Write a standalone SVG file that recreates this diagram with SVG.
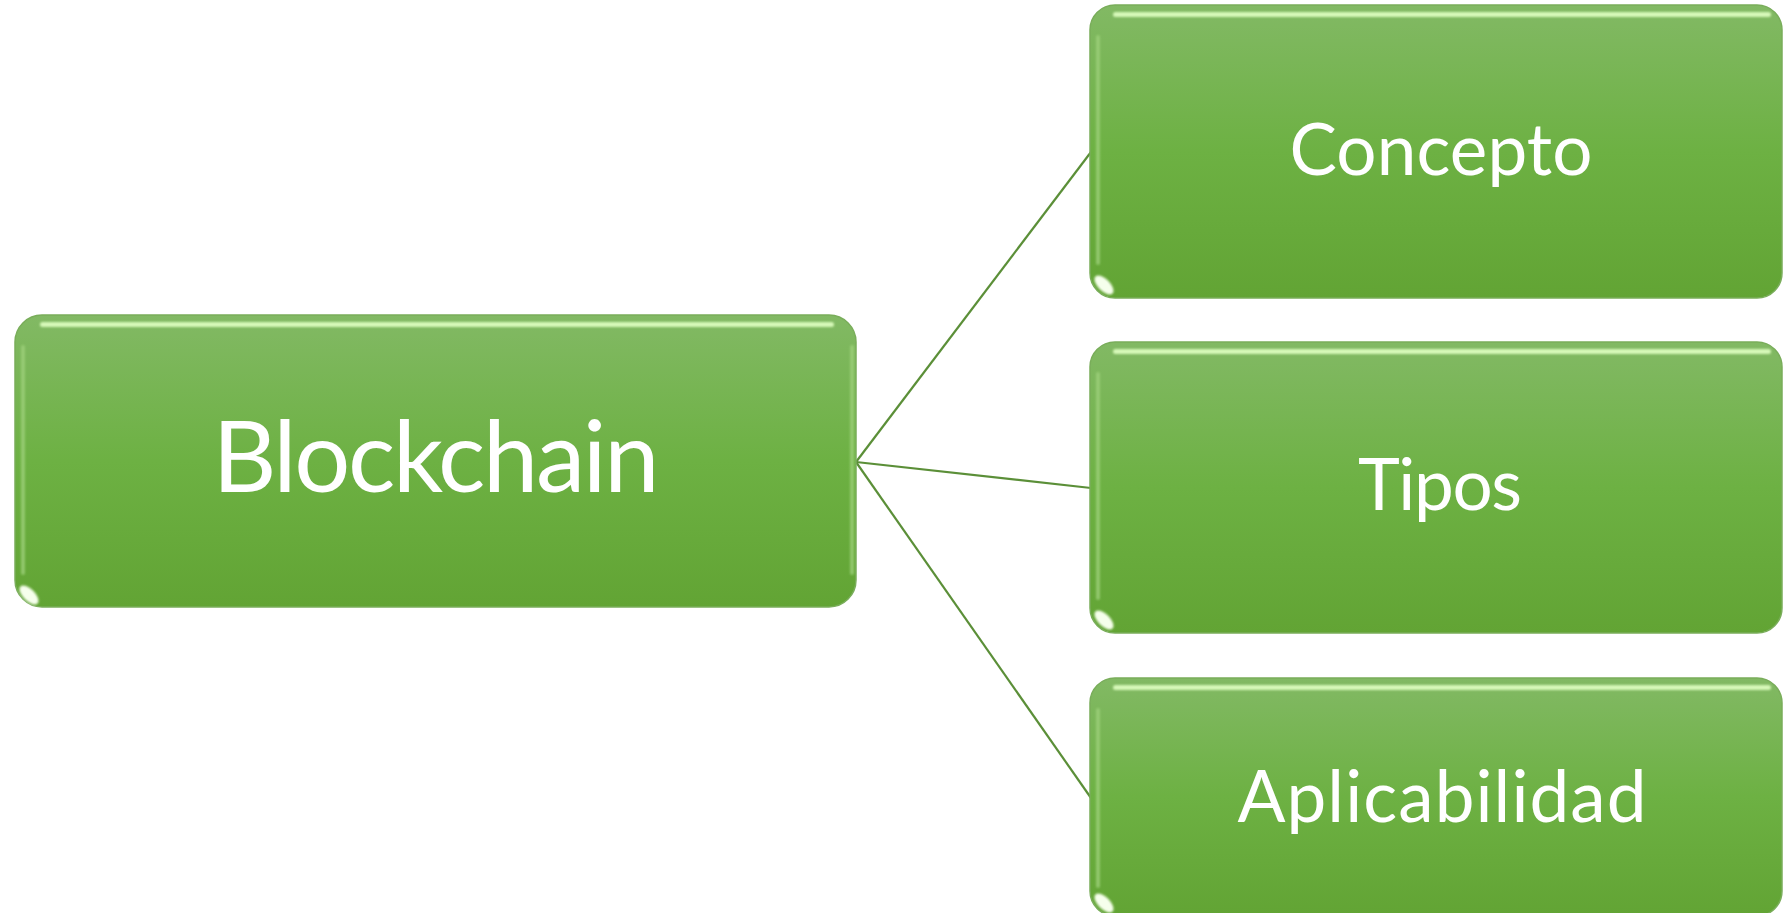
<svg xmlns="http://www.w3.org/2000/svg" width="1783" height="913" viewBox="0 0 1783 913">
  <defs>
    <linearGradient id="g" x1="0" y1="0" x2="0" y2="1">
      <stop offset="0" stop-color="#82b964"/>
      <stop offset="0.5" stop-color="#6db143"/>
      <stop offset="1" stop-color="#62a434"/>
    </linearGradient>
    <filter id="soft" filterUnits="userSpaceOnUse" x="0" y="0" width="1783" height="913">
      <feGaussianBlur stdDeviation="1.3"/>
    </filter>
  </defs>
  <style>
    .box { fill: url(#g); stroke: #79ad5a; stroke-width: 1.5; }
    .hl { fill: #d6f8b8; filter: url(#soft); }
    .side { fill: #9fd27c; opacity: 0.75; filter: url(#soft); }
    .glint { fill: #f6ffec; filter: url(#soft); }
    .lbl { font-family: Lato, "Open Sans", "Liberation Sans", sans-serif; fill: #ffffff; text-anchor: middle; }
    .conn { stroke: #5b8f38; stroke-width: 2.2; fill: none; }
  </style>
  <rect width="1783" height="913" fill="#ffffff"/>

  <g id="connectors">
    <line class="conn" x1="856" y1="462" x2="1091" y2="152"/>
    <line class="conn" x1="856" y1="462" x2="1091" y2="488"/>
    <line class="conn" x1="856" y1="462" x2="1091" y2="798"/>
  </g>

  <g id="node-blockchain">
    <rect class="box" x="15" y="315" width="841" height="292" rx="27"/>
    <rect class="hl" x="40" y="322" width="794" height="5" rx="2.5"/>
    <rect class="side" x="21" y="345" width="4" height="230" rx="2"/>
    <rect class="side" x="850" y="345" width="4" height="230" rx="2"/>
    <ellipse class="glint" cx="29" cy="595" rx="12" ry="6" transform="rotate(45 29 595)"/>
    <text class="lbl" x="436" y="492" font-size="99" textLength="447">Blockchain</text>
  </g>

  <g id="node-concepto">
    <rect class="box" x="1090" y="5" width="692" height="293" rx="25"/>
    <rect class="hl" x="1113" y="12" width="658" height="5" rx="2.5"/>
    <rect class="side" x="1096" y="35" width="4" height="230" rx="2"/>
    <ellipse class="glint" cx="1104" cy="285" rx="12" ry="6" transform="rotate(45 1104 285)"/>
    <text class="lbl" x="1441" y="175" font-size="71" textLength="303">Concepto</text>
  </g>

  <g id="node-tipos">
    <rect class="box" x="1090" y="342" width="692" height="291" rx="25"/>
    <rect class="hl" x="1113" y="349" width="658" height="5" rx="2.5"/>
    <rect class="side" x="1096" y="372" width="4" height="228" rx="2"/>
    <ellipse class="glint" cx="1104" cy="620" rx="12" ry="6" transform="rotate(45 1104 620)"/>
    <text class="lbl" x="1440" y="510" font-size="71" textLength="164">Tipos</text>
  </g>

  <g id="node-aplicabilidad">
    <rect class="box" x="1090" y="678" width="692" height="238" rx="25"/>
    <rect class="hl" x="1113" y="685" width="658" height="5" rx="2.5"/>
    <rect class="side" x="1096" y="708" width="4" height="180" rx="2"/>
    <ellipse class="glint" cx="1104" cy="903" rx="12" ry="6" transform="rotate(45 1104 903)"/>
    <text class="lbl" x="1442" y="822" font-size="71" textLength="409">Aplicabilidad</text>
  </g>
</svg>
